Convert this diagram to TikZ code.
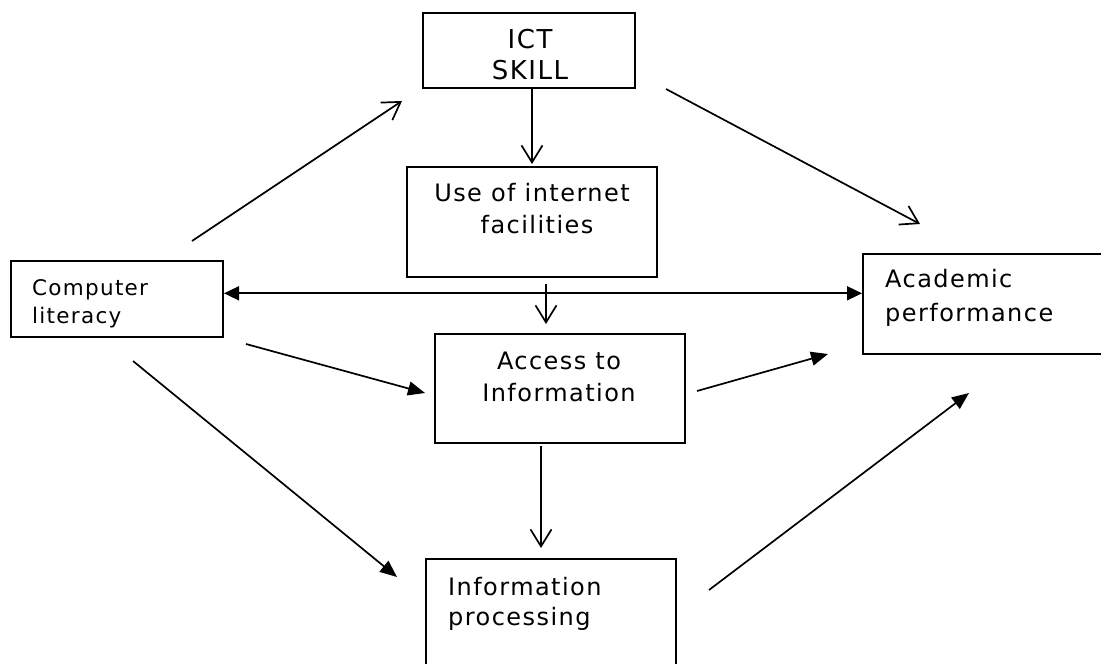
\documentclass[tikz,border=0pt]{standalone}
\usepackage{fontspec}
\setmainfont[LetterSpace=6]{DejaVu Sans}
\usetikzlibrary{arrows.meta}
\tikzset{
  box/.style={draw, line width=2pt, inner sep=0pt},
  lbl/.style={inner sep=0pt, font=\fontsize{24}{32}\selectfont},
  openarr/.style={line width=1.7pt, -{Straight Barb[length=17pt,width=21pt]}},
  fillarr/.style={line width=1.7pt, -{Triangle[length=17pt,width=14pt]}},
  bothharr/.style={line width=1.7pt, {Triangle[length=15pt,width=14pt]}-{Triangle[length=15pt,width=14pt]}}
}
\begin{document}
\begin{tikzpicture}[x=1pt, y=-1pt]
\useasboundingbox (0,0) rectangle (1101,664);
\fill[white] (0,0) rectangle (1101,664);
\clip (0,0) rectangle (1101,664);

% boxes
\node[box, minimum width=212pt, minimum height=75pt] (ict) at (529,50.5) {};
\node[box, minimum width=250pt, minimum height=110pt] (use) at (532,222) {};
\node[box, minimum width=212pt, minimum height=76pt] (comp) at (117,299) {};
\node[box, minimum width=260pt, minimum height=100pt] (acad) at (993,304) {};
\node[box, minimum width=250pt, minimum height=109pt] (access) at (559.5,388.5) {};
\node[box, minimum width=250pt, minimum height=130pt] (info) at (551,624) {};

% texts
\node[lbl, anchor=base, font=\fontsize{26}{31}\selectfont] (ict1) at (530,48) {ICT};
\node[lbl, anchor=base, font=\fontsize{26}{31}\selectfont] (ict2) at (530,79) {SKILL};
\node[lbl, anchor=base] (use1) at (532,201) {Use of internet};
\node[lbl, anchor=base] (use2) at (537,233) {facilities};
\node[lbl, anchor=base west, font=\fontsize{21.5}{28}\selectfont] (comp1) at (32,295) {Computer};
\node[lbl, anchor=base west, font=\fontsize{21.5}{28}\selectfont] (comp2) at (32,323) {literacy};
\node[lbl, anchor=base west] (acad1) at (885,287) {Academic};
\node[lbl, anchor=base west] (acad2) at (885,321) {performance};
\node[lbl, anchor=base] (acc1) at (559,369) {Access to};
\node[lbl, anchor=base] (acc2) at (559,401) {Information};
\node[lbl, anchor=base west] (info1) at (448,595) {Information};
\node[lbl, anchor=base west] (info2) at (448,625) {processing};

% connector end points
\coordinate (a1s) at (192,241);  \coordinate (a1e) at (402,101);
\coordinate (a2s) at (532,89);   \coordinate (a2e) at (532,164);
\coordinate (a3s) at (666,89);   \coordinate (a3e) at (920,224);
\coordinate (a4s) at (224,293.3);\coordinate (a4e) at (862,293.3);
\coordinate (a5s) at (546,284);  \coordinate (a5e) at (546,324);
\coordinate (a6s) at (246,344);  \coordinate (a6e) at (425,393);
\coordinate (a7s) at (133,361);  \coordinate (a7e) at (397,577);
\coordinate (a8s) at (697,391);  \coordinate (a8e) at (828,354);
\coordinate (a9s) at (541,446);  \coordinate (a9e) at (541,548);
\coordinate (a10s) at (709,590); \coordinate (a10e) at (969,393);

% connectors
\draw[openarr] (a1s) -- (a1e);
\draw[openarr] (a2s) -- (a2e);
\draw[openarr] (a3s) -- (a3e);
\draw[bothharr] (a4s) -- (a4e);
\draw[openarr] (a5s) -- (a5e);
\draw[fillarr] (a6s) -- (a6e);
\draw[fillarr] (a7s) -- (a7e);
\draw[fillarr] (a8s) -- (a8e);
\draw[openarr] (a9s) -- (a9e);
\draw[fillarr] (a10s) -- (a10e);
\end{tikzpicture}
\end{document}
